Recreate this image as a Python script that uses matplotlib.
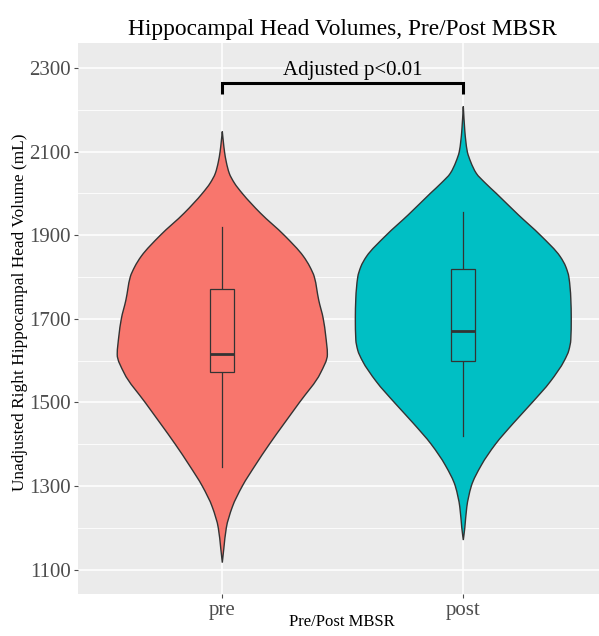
import numpy as np
import matplotlib
matplotlib.use("Agg")
import matplotlib.pyplot as plt
from matplotlib.path import Path
from matplotlib.patches import PathPatch, Rectangle

# ---------------- data ----------------
groups = ["pre", "post"]
fill_colors = ["#F8766D", "#00BFC4"]

# violin density profiles (value, half-width in x units)
pre_y = [1117, 1150, 1200, 1250, 1300, 1350, 1400, 1450, 1500, 1570, 1615, 1660,
         1700, 1745, 1800, 1825, 1850, 1900, 1953, 2000, 2025, 2048, 2075, 2100,
         2125, 2148]
pre_w = [0, .0062, .0166, .0415, .083, .137, .195, .257, .320, .407, .436, .429,
         .419, .400, .382, .363, .336, .257, .158, .083, .050, .029, .0166, .0091,
         .0041, 0]
post_y = [1171, 1200, 1250, 1300, 1350, 1400, 1450, 1500, 1550, 1600, 1625, 1650,
          1700, 1749, 1800, 1825, 1849, 1900, 1949, 2000, 2025, 2048, 2075, 2100,
          2125, 2150, 2208]
post_w = [0, .0062, .0145, .0332, .0747, .133, .207, .286, .361, .419, .438, .446,
          .448, .446, .438, .425, .402, .320, .228, .137, .091, .054, .031, .0166,
          .0104, .0062, 0]

# boxplot stats: lower whisker, Q1, median, Q3, upper whisker
pre_box = [1345, 1572, 1616, 1771, 1919]
post_box = [1420, 1600, 1671, 1820, 1955]

yticks = [1100, 1300, 1500, 1700, 1900, 2100, 2300]
yminor = [1200, 1400, 1600, 1800, 2000, 2200]

bracket_y = 2263
bracket_tip = 2237
annot_text = "Adjusted p<0.01"

title = "Hippocampal Head Volumes, Pre/Post MBSR"
xlabel = "Pre/Post MBSR"
ylabel = "Unadjusted Right Hippocampal Head Volume (mL)"

# ---------------- helpers ----------------
def pchip_slopes(x, y):
    x = np.asarray(x, float); y = np.asarray(y, float)
    h = np.diff(x); d = np.diff(y) / h
    n = len(x); m = np.zeros(n)
    for k in range(1, n - 1):
        if d[k - 1] * d[k] <= 0:
            m[k] = 0.0
        else:
            w1 = 2 * h[k] + h[k - 1]; w2 = h[k] + 2 * h[k - 1]
            m[k] = (w1 + w2) / (w1 / d[k - 1] + w2 / d[k])
    m[0] = d[0]; m[-1] = d[-1]
    return m


def side_segments(ys, ws, pos, sign):
    """Bezier control points for one side of the violin, as a Hermite curve w(y)."""
    ys = np.asarray(ys, float); ws = np.asarray(ws, float)
    m = pchip_slopes(ys, ws)
    segs = []
    for k in range(len(ys) - 1):
        h = ys[k + 1] - ys[k]
        p0 = (pos + sign * ws[k], ys[k])
        c1 = (pos + sign * (ws[k] + m[k] * h / 3), ys[k] + h / 3)
        c2 = (pos + sign * (ws[k + 1] - m[k + 1] * h / 3), ys[k + 1] - h / 3)
        p3 = (pos + sign * ws[k + 1], ys[k + 1])
        segs.append((p0, c1, c2, p3))
    return segs


def violin_path(ys, ws, pos):
    right = side_segments(ys, ws, pos, +1)
    left = side_segments(ys, ws, pos, -1)
    verts = [right[0][0]]; codes = [Path.MOVETO]
    for p0, c1, c2, p3 in right:
        verts += [c1, c2, p3]; codes += [Path.CURVE4] * 3
    for p0, c1, c2, p3 in reversed(left):
        verts += [c2, c1, p0]; codes += [Path.CURVE4] * 3
    verts.append(verts[0]); codes.append(Path.CLOSEPOLY)
    return Path(verts, codes)


serif = ["Liberation Serif", "DejaVu Serif"]
plt.rcParams["font.family"] = serif

fig = plt.figure(figsize=(5.99, 6.36), dpi=100)
fig.patch.set_facecolor("white")
ax = fig.add_axes([77.7 / 599, 42 / 636, (607.9 - 77.7) / 599, (594 - 43.3) / 636])
ax.set_facecolor("#EBEBEB")
ax.set_xlim(0.4, 2.6)
ax.set_ylim(1042, 2359)

# grid
for v in yminor:
    ax.axhline(v, color="white", lw=0.6, zorder=0)
for v in yticks:
    ax.axhline(v, color="white", lw=1.1, zorder=0)
for x in [1, 2]:
    ax.axvline(x, color="white", lw=1.1, zorder=0)

profiles = [(pre_y, pre_w), (post_y, post_w)]
boxes = [pre_box, post_box]
for i, (g, col) in enumerate(zip(groups, fill_colors)):
    pos = i + 1
    ys, ws = profiles[i]
    ax.add_patch(PathPatch(violin_path(ys, ws, pos), facecolor=col,
                           edgecolor="#333333", lw=1.0, zorder=2))

    lw_, q1, med, q3, uw = boxes[i]
    bw = 0.1
    ax.plot([pos, pos], [uw, q3], color="#333333", lw=0.9, zorder=3)
    ax.plot([pos, pos], [q1, lw_], color="#333333", lw=0.9, zorder=3)
    ax.add_patch(Rectangle((pos - bw / 2, q1), bw, q3 - q1, facecolor=col,
                           edgecolor="#333333", lw=0.9, zorder=3))
    ax.plot([pos - bw / 2, pos + bw / 2], [med, med], color="#333333", lw=2.0,
            zorder=4, solid_capstyle="butt")

# significance bracket
ax.plot([1, 1, 2, 2], [bracket_tip, bracket_y, bracket_y, bracket_tip], color="black",
        lw=2.2, zorder=5, solid_joinstyle="miter", solid_capstyle="butt")
ax.text(1.54, bracket_y + 8, annot_text, ha="center", va="bottom", fontsize=15,
        color="black")

ax.set_xticks([1, 2])
ax.set_xticklabels(groups)
ax.set_yticks(yticks)
ax.set_yticklabels([str(v) for v in yticks])
ax.tick_params(axis="both", colors="#4D4D4D", labelcolor="#4D4D4D", length=3,
               width=0.8, labelsize=15, pad=2)
for s in ax.spines.values():
    s.set_visible(False)

fig.text(342 / 599, 1 - 30 / 636, title, ha="center", va="center",
         fontsize=16.8, color="black")
fig.text(342 / 599, 1 - 622 / 636, xlabel, ha="center", va="center",
         fontsize=12, color="black")
fig.text(20 / 599, 1 - 312 / 636, ylabel, ha="center", va="center", rotation=90,
         fontsize=12.4, color="black")

fig.savefig("out.png", dpi=100)
